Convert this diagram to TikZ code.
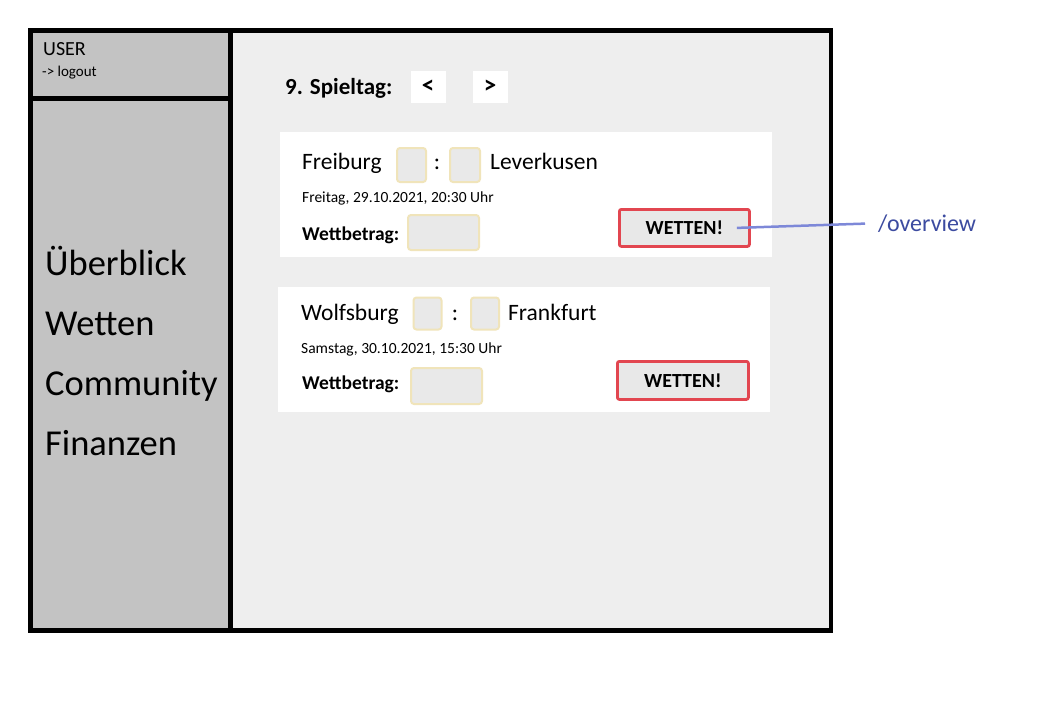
\documentclass[tikz,border=0pt]{standalone}
\usepackage{fontspec}
\setmainfont{Carlito}
\definecolor{sidegray}{RGB}{195,195,195}
\definecolor{contentgray}{RGB}{238,238,238}
\definecolor{boxfill}{RGB}{233,233,233}
\definecolor{boxline}{RGB}{240,228,186}
\definecolor{btnfill}{RGB}{232,232,232}
\definecolor{btnred}{RGB}{226,70,80}
\definecolor{linkblue}{RGB}{125,136,216}
\definecolor{textblue}{RGB}{60,75,160}
\begin{document}
\begin{tikzpicture}[x=1pt,y=-1pt,
  lbl/.style={inner sep=0pt, anchor=base west},
  fs/.style={font={\fontsize{#1}{#1}\selectfont}},
  fsb/.style={font={\fontsize{#1}{#1}\selectfont\bfseries}},
  frameline/.style={line width=4.7pt, draw=black},
  card/.style={fill=white, inner sep=0pt, anchor=north west},
  scorebox/.style={draw=boxline, line width=2pt, fill=boxfill, rounded corners=3pt, inner sep=0pt, anchor=north west},
  betbtn/.style={draw=btnred, line width=2.8pt, fill=btnfill, rounded corners=2pt, inner sep=0pt, anchor=north west, fsb=20},
  navbtn/.style={fill=white, inner sep=0pt, minimum width=35pt, minimum height=32pt, fsb=25},
  link/.style={draw=linkblue, line width=2.5pt}
]
\useasboundingbox (0,0) rectangle (1052,701);
\fill[white] (0,0) rectangle (1052,701);
% frame areas
\fill[sidegray] (30,30) rectangle (231,631);
\fill[contentgray] (231,30) rectangle (831,631);
\draw[frameline] (30.5,30.5) rectangle (831,630.5);
\draw[frameline] (230.5,30.5) -- (230.5,630.5);
\draw[frameline] (30.5,98.5) -- (230.5,98.5);

% sidebar
\node[lbl, fs=20] (user) at (43,56) {USER};
\node[lbl, fs=15] (logout) at (42,77) {-> logout};
\node[lbl, fs=36.5] (m1) at (45,275) {Überblick};
\node[lbl, fs=36.5] (m2) at (45,335) {Wetten};
\node[lbl, fs=36.5] (m3) at (45,395) {Community};
\node[lbl, fs=36.5] (m4) at (45,455) {Finanzen};

% header
\node[lbl, fsb=23] (spieltag) at (285,94) {9. Spieltag:};
\node[navbtn] (prev) at (428,87) {<};
\node[navbtn] (next) at (490,87) {>};

% card 1
\node[card, minimum width=492pt, minimum height=125pt] (card1) at (280,132) {};
\node[lbl, fs=23.5] (home1) at (302,169) {Freiburg};
\node[scorebox, minimum width=29pt, minimum height=34pt] (s1a) at (396,147) {};
\node[inner sep=0pt, anchor=base, fs=23.5] (c1) at (437,169) {:};
\node[scorebox, minimum width=30pt, minimum height=34pt] (s1b) at (449,147) {};
\node[lbl, fs=23.5] (away1) at (490,169) {Leverkusen};
\node[lbl, fs=15.5] (date1) at (302,202) {Freitag, 29.10.2021, 20:30 Uhr};
\node[lbl, fsb=19.5] (wb1) at (302,240) {Wettbetrag:};
\node[scorebox, minimum width=71pt, minimum height=35pt] (bet1) at (407,214) {};
\node[betbtn, minimum width=130pt, minimum height=37pt] (btn1) at (618,208) {WETTEN!};

% card 2
\node[card, minimum width=492pt, minimum height=125pt] (card2) at (278,287) {};
\node[lbl, fs=23.5] (home2) at (301,320) {Wolfsburg};
\node[scorebox, minimum width=28pt, minimum height=32pt] (s2a) at (412.5,296.5) {};
\node[inner sep=0pt, anchor=base, fs=23.5] (c2) at (455,320) {:};
\node[scorebox, minimum width=28pt, minimum height=32pt] (s2b) at (470,296.5) {};
\node[lbl, fs=23.5] (away2) at (508,320) {Frankfurt};
\node[lbl, fs=15.5] (date2) at (301,353) {Samstag, 30.10.2021, 15:30 Uhr};
\node[lbl, fsb=19.5] (wb2) at (302,389) {Wettbetrag:};
\node[scorebox, minimum width=71pt, minimum height=36pt] (bet2) at (410,367) {};
\node[betbtn, minimum width=131pt, minimum height=38pt] (btn2) at (616,360) {WETTEN!};

% route label and connector
\node[lbl, fs=24, text=textblue] (ov) at (878,231) {/overview};
\draw[link, shorten >=13pt] ([xshift=-14pt]btn1.east) -- (ov.west);
\end{tikzpicture}
\end{document}
